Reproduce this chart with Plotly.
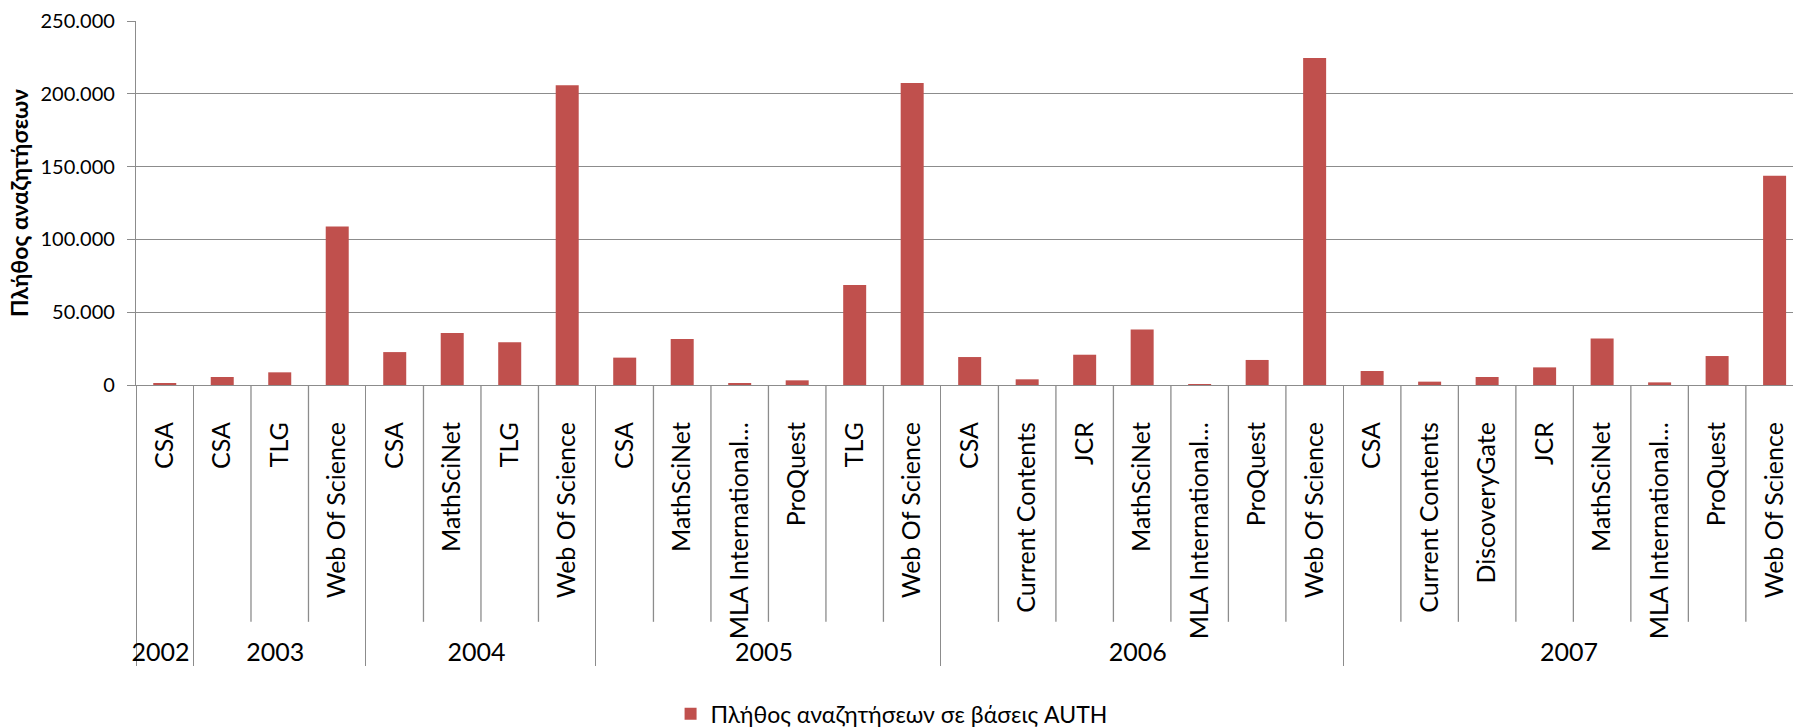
import plotly.graph_objects as go

# ---- data ----
years = (["2002"] + ["2003"] * 3 + ["2004"] * 4 + ["2005"] * 6
         + ["2006"] * 7 + ["2007"] * 8)
databases = [
    "CSA",
    "CSA", "TLG", "Web Of Science",
    "CSA", "MathSciNet", "TLG", "Web Of Science",
    "CSA", "MathSciNet", "MLA International…", "ProQuest", "TLG", "Web Of Science",
    "CSA", "Current Contents", "JCR", "MathSciNet", "MLA International…", "ProQuest", "Web Of Science",
    "CSA", "Current Contents", "DiscoveryGate", "JCR", "MathSciNet", "MLA International…", "ProQuest", "Web Of Science",
]
searches = [
    1200,
    5500, 8700, 108900,
    22600, 35700, 29300, 205900,
    18800, 31600, 700, 3200, 68600, 207500,
    19200, 3900, 20800, 38200, 600, 17200, 224600,
    9600, 2300, 5500, 12100, 32000, 1800, 19900, 143700,
]
# order of databases inside every year (as in the chart)
database_order = ["CSA", "Current Contents", "DiscoveryGate", "JCR", "MathSciNet",
                  "MLA International…", "ProQuest", "TLG", "Web Of Science"]
series_name = "Πλήθος αναζητήσεων σε βάσεις AUTH"
y_title = "Πλήθος αναζητήσεων"

FONT = "Lato"
GRID = "#8c8c8c"
BAR = "#C0504D"

# plotly's multicategory axis orders inner labels by first appearance,
# so feed the points grouped by database (stable within each database)
rank = {d: k for k, d in enumerate(database_order)}
idx = sorted(range(len(years)), key=lambda i: (rank[databases[i]], years[i]))
x_years = [years[i] for i in idx]
x_dbs = [databases[i] for i in idx]
y_vals = [searches[i] for i in idx]

fig = go.Figure()
fig.add_trace(go.Bar(
    x=[x_years, x_dbs],
    y=y_vals,
    name=series_name,
    marker=dict(color=BAR, line=dict(width=0)),
    width=0.4,
    showlegend=True,
))

# inner category boundary lines (between databases of the same year)
for i in range(1, len(years)):
    if years[i] == years[i - 1]:
        fig.add_shape(type="line", xref="x", yref="paper",
                      x0=i - 0.5, x1=i - 0.5, y0=0, y1=-0.6506,
                      line=dict(color=GRID, width=1.3), layer="above")

fig.update_layout(
    width=1793, height=728,
    margin=dict(l=136, r=0, t=21, b=343),
    paper_bgcolor="white", plot_bgcolor="white",
    separators=",.",
    font=dict(family=FONT, color="black"),
    showlegend=True,
    legend=dict(orientation="h", xref="container", yref="container",
                x=0.374, y=0.0195, xanchor="left", yanchor="middle",
                font=dict(size=23, family=FONT), itemwidth=30,
                bgcolor="rgba(0,0,0,0)"),
    xaxis=dict(
        type="multicategory",
        range=[-0.5, 28.32],
        tickangle=-90,
        ticks="",
        ticklabelstandoff=26,
        tickfont=dict(size=25, family=FONT),
        showdividers=True, dividercolor=GRID, dividerwidth=1.3,
        showline=True, linecolor=GRID, linewidth=1.3,
        showgrid=False,
    ),
    yaxis=dict(
        range=[0, 250000], dtick=50000, tickformat=",d",
        showgrid=True, gridcolor=GRID, gridwidth=1.3,
        showline=True, linecolor=GRID, linewidth=1.3,
        ticks="outside", ticklen=8, tickcolor=GRID, tickwidth=1.3,
        ticklabelstandoff=8,
        tickfont=dict(size=20, family=FONT),
        zeroline=False,
        title=dict(text="<b>" + y_title + "</b>", font=dict(size=23, family=FONT), standoff=5),
    ),
)

fig.write_html("out.html", config={"displayModeBar": False},
               post_script="document.body.style.margin='0';document.body.style.overflow='hidden';")
